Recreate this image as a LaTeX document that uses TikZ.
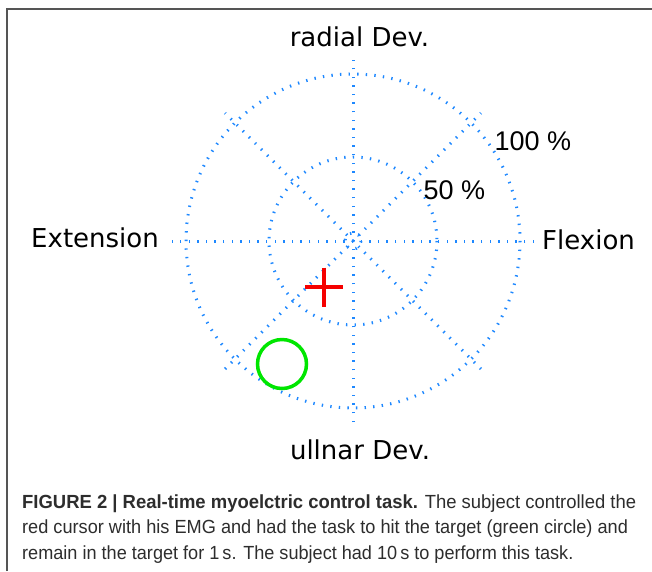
\documentclass[tikz,border=0pt]{standalone}
\usepackage{fontspec}
\setmainfont{Liberation Sans}
\newfontfamily\axisfont{DejaVu Sans}
\usetikzlibrary{calc}
\definecolor{gridblue}{RGB}{30,136,255}
\definecolor{capgrey}{RGB}{45,45,45}
\definecolor{framegrey}{RGB}{85,85,85}
\definecolor{cursorred}{RGB}{245,0,0}
\definecolor{targetgreen}{RGB}{0,230,0}
\begin{document}
\begin{tikzpicture}[x=1pt,y=-1pt,
  grid/.style={gridblue, line width=3pt, dash pattern=on 1.4pt off 7.2pt},
  axislbl/.style={font=\axisfont\fontsize{26}{30}\selectfont, inner sep=0pt},
  pctlbl/.style={font=\fontsize{27}{31}\selectfont, inner sep=0pt, anchor=base west},
  capline/.style={font=\fontsize{19}{23}\selectfont, text=capgrey, inner sep=0pt, anchor=base west}]
\useasboundingbox (0,0) rectangle (652,571);
\fill[white] (0,0) rectangle (652,571);
\draw[framegrey, line width=1.8pt] (7,571) -- (7,9) -- (652,9);
\coordinate (c) at (353,241);
\draw[grid] (c) circle[radius=167];
\draw[grid] (c) circle[radius=84];
\draw[grid] (c) circle[radius=8];
\foreach \a in {0,45,90,135} {
  \draw[grid] ($(c)+(\a:181)$) -- ($(c)+(\a+180:181)$);
}
\node[axislbl, anchor=base] (rad) at (359.5,46) {radial Dev.};
\node[axislbl, anchor=base] (uln) at (360,459) {ullnar Dev.};
\node[axislbl, anchor=base west] (ext) at (31,247) {Extension};
\node[axislbl, anchor=base west] (flx) at (542,249) {Flexion};
\node[pctlbl] (p100) at (494.5,150) {100 \%};
\node[pctlbl] (p50) at (423.5,199) {50 \%};
\coordinate (cur) at (324,287);
\draw[cursorred, line width=4pt] ($(cur)+(-19,0)$) -- ($(cur)+(19,0)$);
\draw[cursorred, line width=4pt] ($(cur)+(0,-19.5)$) -- ($(cur)+(0,19.5)$);
\coordinate (tgt) at (282,364);
\draw[targetgreen, line width=3.5pt] (tgt) circle[radius=24.5];
\node[capline] (cap1) at (22,508) {\scalebox{0.971}[1]{\textbf{FIGURE 2 | Real-time myoelctric control task.} The subject controlled the}};
\node[capline] (cap2) at (22,533.5) {\scalebox{0.956}[1]{red cursor with his EMG and had the task to hit the target (green circle) and}};
\node[capline] (cap3) at (22,559) {\scalebox{0.953}[1]{remain in the target for 1\,s. The subject had 10\,s to perform this task.}};
\end{tikzpicture}
\end{document}
